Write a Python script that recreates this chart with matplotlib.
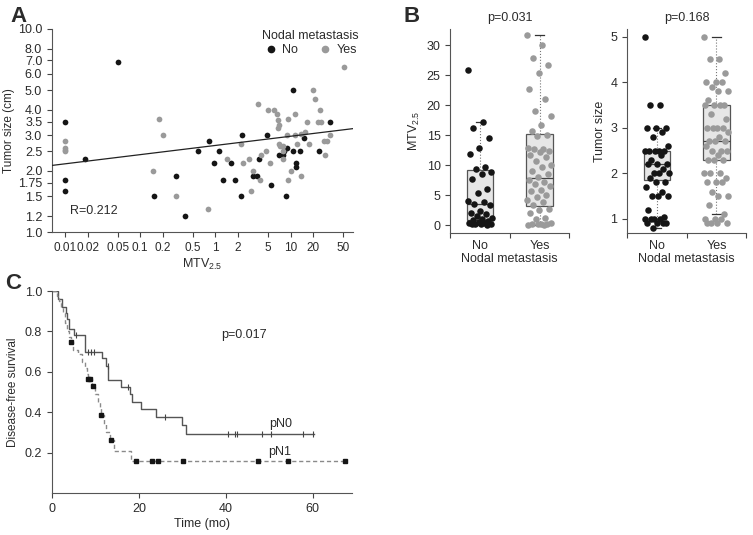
import numpy as np
import matplotlib
matplotlib.use('Agg')
from matplotlib import pyplot as plt
from matplotlib.lines import Line2D

plt.rcParams['font.family'] = ['Liberation Sans', 'DejaVu Sans']
plt.rcParams['mathtext.default'] = 'regular'
plt.rcParams['text.color'] = '#2b2b2b'
plt.rcParams['axes.labelcolor'] = '#2b2b2b'
plt.rcParams['xtick.color'] = '#444444'
plt.rcParams['ytick.color'] = '#444444'
plt.rcParams['xtick.labelcolor'] = '#2b2b2b'
plt.rcParams['ytick.labelcolor'] = '#2b2b2b'
plt.rcParams['axes.edgecolor'] = '#555555'

## Panel A: MTV2.5 vs tumor size (log-log)
a_no_mtv = [0.01, 0.01, 0.01, 0.0185, 0.05, 0.152, 0.296, 0.39, 0.58, 0.83, 0.97, 1.13, 1.26,
            1.63, 1.84, 2.2, 2.25, 3.19, 3.6, 3.75, 4.8, 5.42, 7.0, 7.9, 8.3, 8.6, 9.0, 10.8,
            10.8, 11.9, 11.9, 13.2, 15.0, 23.8, 33.0]
a_no_size = [3.5, 1.8, 1.6, 2.3, 6.9, 1.5, 1.9, 1.2, 2.5, 2.8, 2.2, 2.5, 1.8,
             2.2, 1.8, 1.5, 3.0, 1.9, 1.9, 2.3, 3.0, 1.7, 2.4, 2.4, 2.5, 1.5, 2.6, 5.0,
             2.5, 2.2, 2.1, 2.5, 2.9, 2.5, 3.5]
a_yes_mtv = [0.01, 0.01, 0.01, 0.01, 0.148, 0.176, 0.199, 0.3, 0.79, 1.43, 2.2, 2.3, 2.8, 3.0,
             3.2, 3.64, 3.9, 4.1, 4.7, 5.0, 5.3, 6.1, 6.7, 6.9, 6.9, 7.1, 7.1, 7.3, 7.9, 7.9,
             8.0, 9.1, 9.3, 9.3, 10.0, 11.4, 11.4, 12.1, 13.8, 13.8, 15.7, 16.7, 17.8, 19.6,
             21.0, 23.2, 24.6, 25.5, 27.7, 28.9, 30.7, 33.5, 52.0]
a_yes_size = [2.8, 2.6, 2.55, 2.5, 2.0, 3.6, 3.0, 1.5, 1.3, 2.3, 2.7, 2.2, 2.3, 1.6,
              2.0, 4.25, 1.8, 2.4, 2.5, 4.0, 2.2, 4.0, 3.8, 3.55, 3.25, 3.35, 2.7, 2.65, 2.65, 2.5,
              2.3, 3.0, 3.6, 1.8, 2.0, 3.8, 3.0, 2.7, 3.05, 1.9, 3.1, 3.5, 2.7, 5.0,
              4.5, 3.5, 4.0, 3.5, 2.8, 2.4, 2.8, 3.0, 6.5]
fit_slope = 0.0452      # log-log slope of the regression line
fit_at_one = 2.671      # fitted tumor size at MTV = 1
r_value = 0.212
a_xticks = [0.01, 0.02, 0.05, 0.1, 0.2, 0.5, 1, 2, 5, 10, 20, 50]
a_xticklabels = ['0.01', '0.02', '0.05', '0.1', '0.2', '0.5', '1', '2', '5', '10', '20', '50']
a_yticks = [1.0, 1.2, 1.5, 1.75, 2.0, 2.5, 3.0, 3.5, 4.0, 5.0, 6.0, 7.0, 8.0, 10.0]
a_yticklabels = ['1.0', '1.2', '1.5', '1.75', '2.0', '2.5', '3.0', '3.5', '4.0', '5.0',
                 '6.0', '7.0', '8.0', '10.0']

## Panel B: box plots
groups = ['No', 'Yes']
b_mtv_no = [25.8, 17.2, 16.1, 14.5, 12.8, 11.8, 9.7, 9.3, 8.8, 8.5, 7.6, 6.0, 5.3, 4.0, 3.8,
            3.5, 3.3, 2.4, 2.0, 1.8, 1.5, 1.2, 1.0, 0.8, 0.6, 0.5, 0.4, 0.3, 0.2, 0.2, 0.1,
            0.1, 0.05]
b_mtv_yes = [31.6, 30.0, 27.9, 26.7, 25.3, 22.6, 21.0, 19.0, 18.1, 16.6, 15.6, 15.0, 14.8,
             12.8, 12.7, 12.6, 12.4, 12.2, 11.6, 11.3, 10.6, 10.0, 9.6, 9.0, 8.5, 8.0, 7.5,
             7.2, 6.8, 6.5, 5.9, 5.6, 5.0, 4.6, 4.2, 3.8, 3.4, 2.7, 2.5, 2.0, 1.2, 1.0, 0.3,
             0.2, 0.2, 0.1, 0.1, 0.0, 0.0]
b_mtv_box = {'No': [0.0, 0.9, 3.5, 9.1, 17.2], 'Yes': [0.0, 3.2, 7.8, 15.2, 31.6]}
b_size_no = [5.0, 3.5, 3.5, 3.0, 3.0, 3.0, 2.9, 2.8, 2.6, 2.5, 2.5, 2.5, 2.5, 2.5, 2.4, 2.3,
             2.2, 2.2, 2.2, 2.1, 2.0, 2.0, 2.0, 1.9, 1.8, 1.8, 1.7, 1.6, 1.5, 1.5, 1.5, 1.2,
             1.05, 1.0, 1.0, 1.0, 1.0, 0.9, 0.9, 0.9, 0.9, 0.8]
b_size_yes = [5.0, 4.5, 4.5, 4.2, 4.0, 4.0, 4.0, 3.9, 3.8, 3.8, 3.6, 3.5, 3.5, 3.5, 3.5, 3.3,
              3.2, 3.0, 3.0, 3.0, 3.0, 2.9, 2.8, 2.7, 2.7, 2.7, 2.6, 2.5, 2.5, 2.5, 2.4, 2.3,
              2.3, 2.3, 2.0, 2.0, 2.0, 1.9, 1.8, 1.8, 1.8, 1.6, 1.5, 1.5, 1.3, 1.1, 1.0, 1.0,
              1.0, 0.9, 0.9, 0.9, 0.9]
b_size_box = {'No': [0.8, 1.85, 2.2, 2.5, 3.0], 'Yes': [1.1, 2.3, 2.7, 3.5, 5.0]}
p_mtv = 'p=0.031'
p_size = 'p=0.168'

## Panel C: Kaplan-Meier
pn0_t = [0, 1.3, 2.2, 3.2, 3.5, 4.0, 5.0, 7.6, 11.6, 12.4, 13.0, 15.8, 17.9, 18.4, 20.6,
         24.0, 30.0, 30.8, 60.4]
pn0_s = [1.0, 0.96, 0.92, 0.89, 0.86, 0.81, 0.78, 0.70, 0.67, 0.63, 0.56, 0.526, 0.49, 0.45,
         0.415, 0.375, 0.335, 0.29, 0.29]
pn0_cens = [5.6, 8.3, 9.0, 9.6, 12.9, 17.6, 26.1, 40.6, 42.2, 42.6, 48.4, 50.4, 57.9, 60.2]
pn1_t = [0, 1.2, 1.6, 2.0, 2.5, 3.0, 3.5, 4.0, 4.4, 4.8, 6.0, 7.0, 7.6, 8.0, 8.3, 9.3, 10.0,
         10.5, 11.0, 11.3, 12.0, 12.5, 13.3, 14.2, 18.3, 67.4]
pn1_s = [1.0, 0.975, 0.95, 0.92, 0.89, 0.84, 0.80, 0.77, 0.75, 0.71, 0.69, 0.65, 0.62, 0.59,
         0.565, 0.53, 0.49, 0.45, 0.42, 0.385, 0.34, 0.30, 0.26, 0.21, 0.16, 0.16]
pn1_cens = [4.4, 8.3, 8.8, 9.5, 11.3, 13.5, 19.4, 23.0, 24.5, 30.1, 47.4, 54.4, 67.4]
p_km = 'p=0.017'

BLACK = '#151515'
GRAY = '#9a9a9a'
FS = 9

fig = plt.figure(figsize=(7.53, 5.35), dpi=100)

def clean(ax):
    ax.spines['top'].set_visible(False)
    ax.spines['right'].set_visible(False)
    ax.tick_params(direction='out', length=3.5, width=0.8, labelsize=FS)

## --- A
axA = fig.add_axes([0.069, 0.566, 0.400, 0.380])
clean(axA)
axA.set_xscale('log')
axA.set_yscale('log')
axA.scatter(a_no_mtv, a_no_size, s=17, color=BLACK, linewidths=0, zorder=3)
axA.scatter(a_yes_mtv, a_yes_size, s=17, color=GRAY, linewidths=0, zorder=3)
xs = np.array([0.0067, 68])
axA.plot(xs, fit_at_one * xs ** fit_slope, color='#222222', lw=0.9, zorder=4)
axA.set_xlim(0.0067, 68)
axA.set_ylim(1.0, 10.0)
axA.set_xticks(a_xticks, a_xticklabels)
axA.set_yticks(a_yticks, a_yticklabels)
axA.minorticks_off()
axA.tick_params(axis='x', labelsize=8.5)
axA.set_xlabel('MTV$_{2.5}$', fontsize=FS, labelpad=2)
axA.set_ylabel('Tumor size (cm)', fontsize=8.5, labelpad=2)
axA.text(0.06, 0.09, 'R=%.3f' % r_value, transform=axA.transAxes, fontsize=FS)
handles = [Line2D([], [], marker='o', ls='', color=BLACK, markersize=4.5),
           Line2D([], [], marker='o', ls='', color=GRAY, markersize=4.5)]
leg = axA.legend(handles, groups, title='Nodal metastasis', ncol=2, frameon=False,
                 loc='upper center', bbox_to_anchor=(0.857, 1.04), fontsize=FS,
                 title_fontsize=FS, handletextpad=0.3, columnspacing=1.6, handlelength=1.2,
                 borderpad=0.2, labelspacing=0.2)

## --- B
def box_panel(ax, vals, boxes, ylim, yticks, ylabel, ptxt):
    clean(ax)
    stats = []
    for g in groups:
        lo, q1, med, q3, hi = boxes[g]
        stats.append(dict(whislo=lo, q1=q1, med=med, q3=q3, whishi=hi, fliers=[]))
    ax.bxp(stats, positions=[1, 2], widths=0.45, patch_artist=True, showfliers=False,
           capwidths=0.15,
           boxprops=dict(facecolor='#e6e6e6', edgecolor='#555555', lw=0.9),
           medianprops=dict(color='#444444', lw=0.9),
           whiskerprops=dict(color='#777777', lw=0.8, ls=':'),
           capprops=dict(color='#333333', lw=0.9))
    for i, (v, c) in enumerate(zip(vals, [BLACK, GRAY])):
        n = len(v)
        # spread the dots across the box width, the same way every run
        jit = ((np.arange(n) * 0.6180339) % 1 - 0.5) * 0.42
        ax.scatter(i + 1 + jit, v, s=22, color=c, linewidths=0, zorder=3)
    ax.set_xlim(0.5, 2.5)
    ax.set_ylim(*ylim)
    ax.set_yticks(yticks)
    ax.set_xticks([1, 2], groups)
    ax.tick_params(axis='x', length=0, pad=5)
    ax.set_xticks([0.5, 1.5, 2.5], minor=True)
    ax.tick_params(axis='x', which='minor', length=3.5, width=0.8, direction='out')
    ax.set_xlabel('Nodal metastasis', fontsize=FS, labelpad=1)
    ax.set_ylabel(ylabel, fontsize=FS, labelpad=3)
    ax.set_title(ptxt, fontsize=FS, pad=6)

axB1 = fig.add_axes([0.598, 0.5645, 0.158, 0.3815])
box_panel(axB1, [b_mtv_no, b_mtv_yes], b_mtv_box, (-1.33, 32.7), [0, 5, 10, 15, 20, 25, 30],
          'MTV$_{2.5}$', p_mtv)
axB2 = fig.add_axes([0.833, 0.5645, 0.158, 0.3815])
box_panel(axB2, [b_size_no, b_size_yes], b_size_box, (0.69, 5.17), [1, 2, 3, 4, 5],
          'Tumor size', p_size)

## --- C
axC = fig.add_axes([0.069, 0.0785, 0.398, 0.3775])
clean(axC)
axC.step(pn0_t, pn0_s, where='post', color='#555555', lw=1.0)
axC.step(pn1_t, pn1_s, where='post', color='#8a8a8a', lw=1.0, ls=(0, (3, 2)))
t0, s0 = np.array(pn0_t), np.array(pn0_s)
c0 = s0[np.searchsorted(t0, pn0_cens, side='right') - 1]
axC.plot(pn0_cens, c0, ls='', marker='|', color='#444444', markersize=5, mew=0.8)
t1, s1 = np.array(pn1_t), np.array(pn1_s)
c1 = s1[np.searchsorted(t1, pn1_cens, side='right') - 1]
axC.plot(pn1_cens, c1, ls='', marker='s', color=BLACK, markersize=3.5, zorder=4,
         clip_on=False)
axC.set_xlim(0, 69)
axC.set_ylim(0, 1.0)
axC.set_xticks([0, 20, 40, 60])
axC.set_yticks([0.2, 0.4, 0.6, 0.8, 1.0], ['0.2', '0.4', '0.6', '0.8', '1.0'])
axC.set_xlabel('Time (mo)', fontsize=FS, labelpad=2)
axC.set_ylabel('Disease-free survival', fontsize=8.5, labelpad=4)
axC.text(44.3, 0.78, p_km, fontsize=FS, ha='center', va='center')
axC.text(52.7, 0.34, 'pN0', fontsize=FS, ha='center', va='center')
axC.text(52.4, 0.205, 'pN1', fontsize=FS, ha='center', va='center')

fig.text(0.024, 0.970, 'A', fontsize=16, fontweight='bold', ha='center', va='center')
fig.text(0.547, 0.970, 'B', fontsize=16, fontweight='bold', ha='center', va='center')
fig.text(0.018, 0.471, 'C', fontsize=16, fontweight='bold', ha='center', va='center')

fig.savefig('out.png', dpi=100)
